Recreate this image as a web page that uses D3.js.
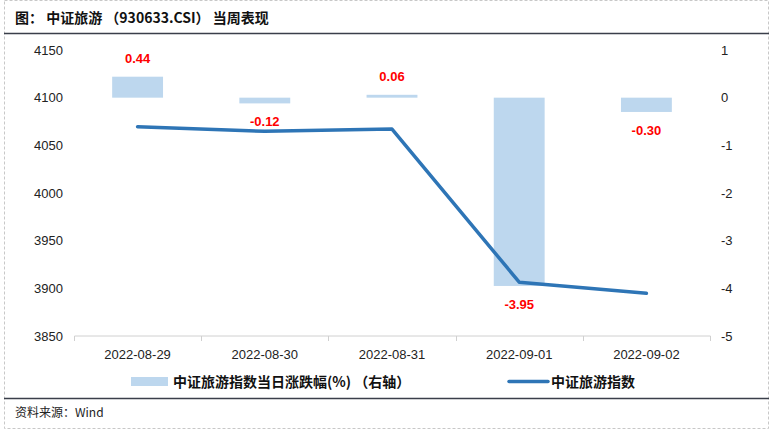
<!DOCTYPE html>
<html><head><meta charset="utf-8">
<script src="https://cdn.jsdelivr.net/npm/d3@7"></script>
<style>body{margin:0;background:#fff}svg{display:block}.full{text-spacing-trim:space-all}</style>
</head><body><svg id="c" width="773" height="433"></svg>
<script>
const categories = ["2022-08-29","2022-08-30","2022-08-31","2022-09-01","2022-09-02"];
const changePct = [0.44, -0.12, 0.06, -3.95, -0.30];
const indexValues = [4069.6, 4064.7, 4067.1, 3906.5, 3894.8];
const leftTicks = [3850, 3900, 3950, 4000, 4050, 4100, 4150];
const rightTicks = [-5, -4, -3, -2, -1, 0, 1];
const title = "图： 中证旅游 （930633.CSI） 当周表现";
const source = "资料来源：Wind";
const legendLabels = ["中证旅游指数当日涨跌幅(%) （右轴）", "中证旅游指数"];

const svg = d3.select("#c");
const FONT = "'Liberation Sans', Arial, 'Noto Sans CJK SC', sans-serif";
const CJK = "'Noto Sans CJK SC', 'Liberation Sans', sans-serif";
const barColor = "#BDD7EE", lineColor = "#2E75B6";

// frame
svg.append("rect").attr("x",4.5).attr("y",0.5).attr("width",764).attr("height",428)
  .attr("fill","none").attr("stroke","#c8c8c8").attr("stroke-dasharray","3,2");
svg.append("text").attr("x",15).attr("y",23).attr("font-family",CJK).attr("font-weight","bold")
  .attr("font-size",14).attr("fill","#111").text(title);
svg.append("line").attr("x1",4).attr("x2",769).attr("y1",33.5).attr("y2",33.5).attr("stroke","#3a3f4a").attr("stroke-width",1.5);
svg.append("line").attr("x1",4).attr("x2",769).attr("y1",398.5).attr("y2",398.5).attr("stroke","#3a3f4a").attr("stroke-width",1.5);
svg.append("text").attr("x",15).attr("y",417).attr("font-family",CJK)
  .attr("font-size",12).attr("fill","#222").text(source);

const x = d3.scaleBand().domain(categories).range([74, 710]).paddingInner(0).paddingOuter(0);
const yL = d3.scaleLinear().domain([3850, 4150]).range([336, 50]);
const yR = d3.scaleLinear().domain([-5, 1]).range([336, 50]);

// bars
const bw = x.bandwidth()*0.4;
svg.append("g").selectAll("rect").data(changePct).enter().append("rect")
  .attr("x",(d,i)=>x(categories[i])+x.bandwidth()/2-bw/2)
  .attr("width",bw)
  .attr("y",d=>yR(Math.max(0,d)))
  .attr("height",d=>Math.abs(yR(d)-yR(0)))
  .attr("fill",barColor);

// baseline axis
const xAxis = d3.axisBottom(x).tickSize(0).tickFormat(d=>d);
const gx = svg.append("g").attr("transform","translate(0,336)").call(xAxis);
gx.select(".domain").attr("stroke","#d0d0d0").attr("d","M74.5,0H710.5");
gx.selectAll("text").attr("font-family",FONT).attr("font-size",13).attr("fill","#222").attr("dy","1.5em");
const bounds = categories.map(c=>x(c)).concat([x(categories[categories.length-1])+x.bandwidth()]);
gx.selectAll(".sep").data(bounds).enter().append("line")
  .attr("x1",d=>Math.round(d)+0.5).attr("x2",d=>Math.round(d)+0.5).attr("y1",0).attr("y2",5).attr("stroke","#d0d0d0");

// left axis
const gl = svg.append("g").attr("transform","translate(66,0)")
  .call(d3.axisLeft(yL).tickValues(leftTicks).tickSize(0).tickFormat(d=>String(d)));
gl.select(".domain").remove();
gl.selectAll("text").attr("font-family",FONT).attr("font-size",13).attr("fill","#222");

// right axis
const gr = svg.append("g").attr("transform","translate(718,0)")
  .call(d3.axisRight(yR).tickValues(rightTicks).tickSize(0).tickFormat(d=>String(d)));
gr.select(".domain").remove();
gr.selectAll("text").attr("font-family",FONT).attr("font-size",13).attr("fill","#222");

// line
const line = d3.line().x((d,i)=>x(categories[i])+x.bandwidth()/2).y(d=>yL(d));
svg.append("path").datum(indexValues).attr("d",line).attr("fill","none")
  .attr("stroke",lineColor).attr("stroke-width",3.5).attr("stroke-linejoin","round").attr("stroke-linecap","round");

// labels
svg.append("g").selectAll("text").data(changePct).enter().append("text")
  .attr("x",(d,i)=>x(categories[i])+x.bandwidth()/2)
  .attr("y",d=> d>=0 ? yR(d)-14 : yR(d)+23)
  .attr("text-anchor","middle").attr("font-family",FONT).attr("font-weight","bold")
  .attr("font-size",13).attr("fill","#ff0000").text(d=>d.toFixed(2));

// legend
const lg = svg.append("g");
lg.append("rect").attr("x",131).attr("y",377).attr("width",37).attr("height",9).attr("fill",barColor);
lg.append("text").attr("class","full").attr("x",173).attr("y",387).attr("font-family",CJK).attr("font-weight","bold")
  .attr("font-size",14).attr("fill","#111").text(legendLabels[0]);
lg.append("line").attr("x1",509).attr("x2",548).attr("y1",381.5).attr("y2",381.5).attr("stroke",lineColor).attr("stroke-width",3.5)
  .attr("stroke-linecap","round");
lg.append("text").attr("x",551).attr("y",387).attr("font-family",CJK).attr("font-weight","bold")
  .attr("font-size",14).attr("fill","#111").text(legendLabels[1]);
</script></body></html>
